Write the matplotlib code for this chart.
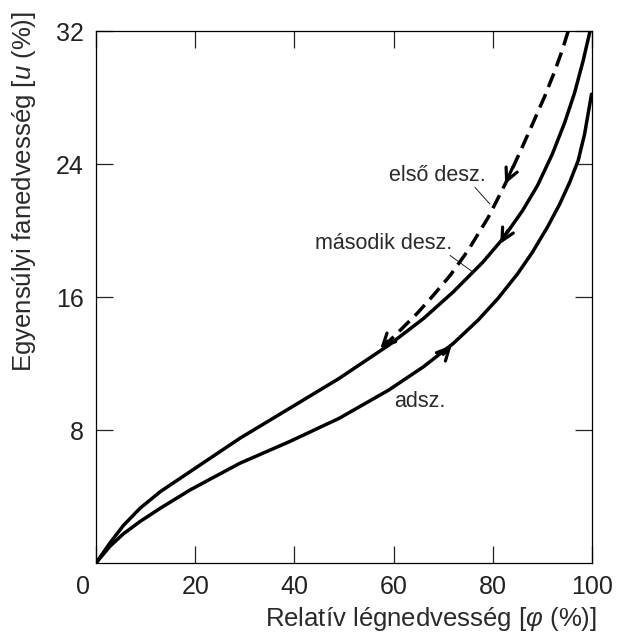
import matplotlib
matplotlib.use("Agg")
import matplotlib.pyplot as plt
import matplotlib.transforms as mtransforms

plt.rcParams['font.family'] = ['Liberation Sans', 'DejaVu Sans']
plt.rcParams['mathtext.fontset'] = 'custom'
plt.rcParams['mathtext.it'] = 'Liberation Sans:italic'
plt.rcParams['mathtext.rm'] = 'Liberation Sans'

# values
# second desorption (solid, middle curve)
des2_x = [0, 2.8, 5.5, 8.9, 13, 19, 29, 39, 49, 59, 66, 72, 78, 82, 86, 89, 92, 94.5, 96.5, 98.2, 99.6]
des2_y = [0, 1.2, 2.25, 3.3, 4.3, 5.5, 7.5, 9.3, 11.1, 13.1, 14.7, 16.3, 18.1, 19.5, 21.2, 22.7, 24.6, 26.5, 28.3, 30.2, 32]

# adsorption (solid, lower curve)
ads_x = [0, 2.8, 5.5, 8.9, 13, 19, 29, 39, 49, 59, 66, 72, 77, 81, 85, 88, 91, 93.5, 95.5, 97.2, 98.5, 99.9]
ads_y = [0, 1.0, 1.75, 2.5, 3.3, 4.4, 6.0, 7.3, 8.7, 10.4, 11.8, 13.2, 14.6, 15.9, 17.4, 18.7, 20.2, 21.6, 22.9, 24.2, 25.8, 28.2]

# first desorption (dashed)
des1_x = [57.9, 61, 64.7, 68, 71.4, 75, 79.1, 82.5, 85.3, 88, 90.5, 92.5, 94, 95.2]
des1_y = [13.0, 13.9, 15.0, 16.1, 17.3, 18.8, 20.8, 22.8, 24.6, 26.4, 28.1, 29.6, 30.85, 32.0]

# arrow heads: (tip x, tip y, tail x, tail y)
arrows = [
    (82.5, 22.8, 84.0, 23.8),   # elso desz.
    (81.5, 19.2, 83.0, 20.0),   # masodik desz.
    (71.7, 13.1, 70.0, 12.55),  # adsz.
    (57.3, 12.9, 58.8, 13.35),  # merge point
]

x_ticks = [0, 20, 40, 60, 80, 100]
y_ticks = [8, 16, 24, 32]

fig = plt.figure(figsize=(6.17, 6.34), dpi=100)
ax = fig.add_axes([0.1556, 0.112, 0.8039, 0.839])

lw = 2.5
ax.plot(des2_x, des2_y, color='black', lw=lw, solid_capstyle='round', solid_joinstyle='round')
ax.plot(ads_x, ads_y, color='black', lw=lw, solid_capstyle='round', solid_joinstyle='round')
ax.plot(des1_x, des1_y, color='black', lw=lw, dashes=(4.2, 2.2))

for tx, ty, sx, sy in arrows:
    ax.annotate('', xy=(tx, ty), xytext=(sx, sy),
                arrowprops=dict(arrowstyle='->', lw=2.3, color='black',
                                mutation_scale=22, shrinkA=0, shrinkB=0))

# labels with leader lines
tc = '#2a2a2a'
ax.text(68.8, 23.3, 'első desz.', fontsize=15.5, color=tc, ha='center', va='center')
ax.plot([76.4, 79.4], [22.6, 21.6], color='black', lw=0.6)
ax.text(57.9, 19.2, 'második desz.', fontsize=15.5, color=tc, ha='center', va='center')
ax.plot([71.4, 76.0], [18.5, 17.5], color='black', lw=0.6)
ax.text(65.3, 9.7, 'adsz.', fontsize=15.5, color=tc, ha='center', va='center')

ax.set_xlim(0, 100)
ax.set_ylim(0, 32)
ax.set_xticks(x_ticks)
ax.set_yticks(y_ticks)
ax.tick_params(direction='in', length=12.5, width=0.9, labelsize=18,
               top=True, right=True, pad=9, colors='#222222')
for s in ax.spines.values():
    s.set_linewidth(0.9)

# shift the shared "0" label towards the corner
lab0 = ax.get_xticklabels()[0]
lab0.set_transform(lab0.get_transform() +
                   mtransforms.ScaledTranslation(-13 / 100, 0, fig.dpi_scale_trans))

fig.text(431 / 617, 1 - 619 / 634, r'Relatív légnedvesség $\mathit{[φ\ (\%)]}$',
         fontsize=18.5, color=tc, ha='center', va='center')
fig.text(24 / 617, 1 - 192 / 634, r'Egyensúlyi fanedvesség $\mathit{[u\ (\%)]}$',
         fontsize=18.5, color=tc, ha='center', va='center', rotation=90)

fig.savefig('out.png', dpi=100)
